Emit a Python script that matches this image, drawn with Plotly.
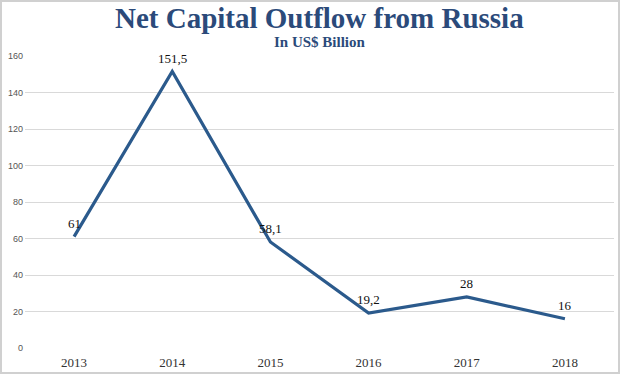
import plotly.graph_objects as go

years = ["2013", "2014", "2015", "2016", "2017", "2018"]
outflow = [61, 151.5, 58.1, 19.2, 28, 16]
y_ticks = [0, 20, 40, 60, 80, 100, 120, 140, 160]

labels = [f"{v:g}".replace(".", ",") for v in outflow]

SERIF = "Liberation Serif, DejaVu Serif, serif"
W, H = 620, 374
ML, MR, MT, MB = 25, 6, 56, 26
plot_h = H - MT - MB
plot_w = W - ML - MR

fig = go.Figure()
fig.add_trace(go.Scatter(
    x=years, y=outflow, mode="lines",
    line=dict(color="#2b5a8c", width=3.2),
    hoverinfo="skip",
))

# data labels (category index positions on the category axis)
for i, (v, lab) in enumerate(zip(outflow, labels)):
    fig.add_annotation(x=i, y=v, xref="x", yref="y", text=lab, showarrow=False,
                       yanchor="bottom", yshift=4,
                       font=dict(family=SERIF, size=13, color="#111111"))

fig.add_annotation(text="<b>Net Capital Outflow from Russia</b>", xref="paper", yref="paper",
                   x=0.5, y=1 + (MT - 18) / plot_h, yanchor="middle", showarrow=False,
                   font=dict(family=SERIF, size=29, color="#2b4a7a"))
fig.add_annotation(text="<b>In US$ Billion</b>", xref="paper", yref="paper",
                   x=0.5, y=1 + (MT - 42) / plot_h, yanchor="middle", showarrow=False,
                   font=dict(family=SERIF, size=15, color="#2b4a7a"))

fig.update_layout(
    width=W, height=H,
    margin=dict(l=ML, r=MR, t=MT, b=MB),
    paper_bgcolor="white", plot_bgcolor="white",
    showlegend=False,
)

fig.update_xaxes(
    type="category", range=[-0.5, 5.5], showgrid=False, zeroline=False, showline=False,
    tickfont=dict(family=SERIF, size=13, color="#333333"),
    ticks="", ticklabelstandoff=5, automargin=False,
)
fig.update_yaxes(
    range=[0, 160], tickvals=y_ticks, showgrid=True, gridcolor="#d9d9d9", gridwidth=1,
    zeroline=False, showline=False, ticks="",
    tickfont=dict(family="Liberation Sans, Arial, sans-serif", size=9, color="#555555"),
    ticklabelstandoff=1, automargin=False,
)

# light gray frame around the image
fig.add_shape(type="rect", xref="paper", yref="paper",
              x0=-(ML - 1) / plot_w, x1=1 + (MR - 1) / plot_w,
              y0=-(MB - 1) / plot_h, y1=1 + (MT - 1) / plot_h,
              line=dict(color="#d0d0d0", width=2))

fig.write_html("out.html", config={"displayModeBar": False},
               post_script="document.body.style.margin='0';")
